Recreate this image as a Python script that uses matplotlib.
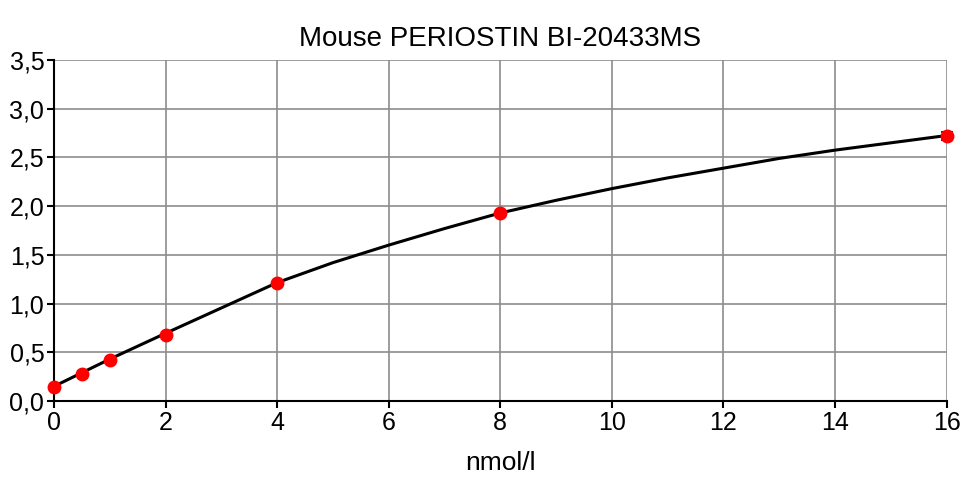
import numpy as np
import matplotlib.pyplot as plt
from matplotlib.ticker import FuncFormatter

plt.rcParams['font.family'] = ['Liberation Sans Narrow', 'Liberation Sans', 'DejaVu Sans']

# measured standards
conc = [0, 0.5, 1, 2, 4, 8, 16]
od = [0.144, 0.28, 0.425, 0.68, 1.215, 1.925, 2.72]
od_err = [0, 0, 0, 0, 0, 0, 0.04]

# fitted curve
fit_x = [0, 1, 2, 3, 4, 5, 6, 7, 8, 9, 10, 11, 12, 13, 14, 15, 16]
fit_y = [0.15, 0.43, 0.695, 0.955, 1.215, 1.42, 1.60, 1.77, 1.93, 2.06, 2.18,
         2.29, 2.39, 2.49, 2.575, 2.65, 2.725]

fig = plt.figure(figsize=(9.64, 4.84), dpi=100)
ax = fig.add_axes([0.056, 0.1715, 0.926, 0.7045])

ax.plot(fit_x, fit_y, color='black', lw=2.2, zorder=3, clip_on=False,
        solid_joinstyle='round')
ax.errorbar(conc, od, yerr=od_err, fmt='none', ecolor='#2020c0', elinewidth=1,
            capsize=4, capthick=1.5, zorder=4, clip_on=False)
ax.plot(conc, od, 'o', color='#ff0000', ms=9, mec='#ff0000', zorder=5, clip_on=False)

ax.set_xlim(0, 16)
ax.set_ylim(0, 3.5)
ax.set_xticks(np.arange(0, 17, 2))
ax.set_yticks(np.arange(0, 3.51, 0.5))
ax.yaxis.set_major_formatter(FuncFormatter(lambda v, p: f"{v:.1f}".replace('.', ',')))
ax.grid(True, color='#8c8c8c', lw=1.2)
ax.set_axisbelow(True)
for s in ['top', 'right']:
    ax.spines[s].set_visible(False)
for s in ['left', 'bottom']:
    ax.spines[s].set_color('black')
    ax.spines[s].set_linewidth(1.5)
    ax.spines[s].set_zorder(2)
ax.tick_params(direction='out', length=5, width=1.5, labelsize=18, pad=2)

ax.set_title('Mouse PERIOSTIN BI-20433MS', fontsize=20, pad=10)
ax.set_xlabel('nmol/l', fontsize=19, labelpad=12)

fig.savefig('out.png', dpi=100)
